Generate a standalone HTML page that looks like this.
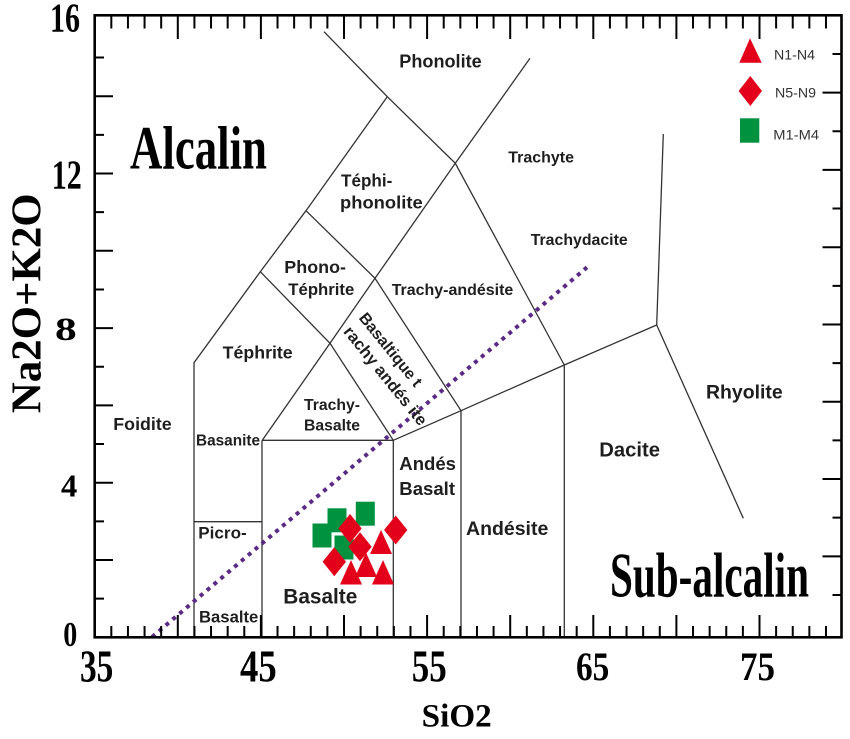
<!DOCTYPE html>
<html>
<head>
<meta charset="utf-8">
<style>
html,body{margin:0;padding:0;background:#fff;}
svg{display:block;}
.lab{font-family:"Liberation Sans",sans-serif;font-weight:bold;fill:#1e1e1e;}
.ser{font-family:"Liberation Serif",serif;font-weight:bold;fill:#000;}
.leg{font-family:"Liberation Sans",sans-serif;font-size:14px;fill:#333;}
</style>
</head>
<body>
<svg width="850" height="739" viewBox="0 0 850 739" xmlns="http://www.w3.org/2000/svg">
<rect x="0" y="0" width="850" height="739" fill="#fff"/>

<!-- TAS field boundaries -->
<g fill="none" stroke="#333" stroke-width="1.3" stroke-linejoin="miter">
  <polyline points="194,637.3 194,362.7 260.3,271.7 306,210.7 387.3,96.7"/>
  <polyline points="324,31.7 387.3,96.7 455.3,163.3 564.3,365"/>
  <polyline points="530,58.3 455.3,163.3 375,278.3 330,343.3 262.3,440.3"/>
  <polyline points="260.3,271.7 330,343.3 393.3,440.3"/>
  <polyline points="306,210.7 375,278.3 461,410.7"/>
  <line x1="262" y1="440.3" x2="393.3" y2="440.3"/>
  <line x1="262" y1="440.3" x2="262" y2="637.3"/>
  <line x1="194" y1="521.7" x2="262" y2="521.7"/>
  <line x1="393.3" y1="440.3" x2="393.3" y2="637.3"/>
  <polyline points="393.3,440.3 461,410.7 564.3,365 656.7,325"/>
  <line x1="461" y1="410.7" x2="461" y2="637.3"/>
  <line x1="564.3" y1="365" x2="564.3" y2="637.3"/>
  <polyline points="663.3,134 656.7,325 743.3,518.3"/>
</g>

<!-- dotted alkaline/subalkaline divider -->
<line x1="152" y1="637" x2="587" y2="267.3" stroke="#5b2a86" stroke-width="4" stroke-dasharray="4 5"/>

<!-- axes frame -->
<rect x="94.7" y="15.3" width="746.8" height="622" fill="none" stroke="#000" stroke-width="2.6"/>

<!-- ticks -->
<g stroke="#000" stroke-width="2" fill="none">
  <!-- bottom minor -->
  <path d="M111.32 637.3V626M127.94 637.3V626M144.56 637.3V626M161.18 637.3V626M194.42 637.3V626M211.04 637.3V626M227.66 637.3V626M244.28 637.3V626M277.52 637.3V626M294.14 637.3V626M310.76 637.3V626M327.38 637.3V626M360.62 637.3V626M377.24 637.3V626M393.86 637.3V626M410.48 637.3V626M443.72 637.3V626M460.34 637.3V626M476.96 637.3V626M493.58 637.3V626M526.82 637.3V626M543.44 637.3V626M560.06 637.3V626M576.68 637.3V626M609.92 637.3V626M626.54 637.3V626M643.16 637.3V626M659.78 637.3V626M693.02 637.3V626M709.64 637.3V626M726.26 637.3V626M742.88 637.3V626M776.12 637.3V626M792.74 637.3V626M809.36 637.3V626M825.98 637.3V626"/>
  <!-- bottom major -->
  <path d="M177.8 637.3V615M260.9 637.3V615M344 637.3V615M427.1 637.3V615M510.2 637.3V615M593.3 637.3V615M676.4 637.3V615M759.5 637.3V615"/>
  <!-- top minor -->
  <path d="M111.32 15.3V28.5M127.94 15.3V28.5M144.56 15.3V28.5M161.18 15.3V28.5M194.42 15.3V28.5M211.04 15.3V28.5M227.66 15.3V28.5M244.28 15.3V28.5M277.52 15.3V28.5M294.14 15.3V28.5M310.76 15.3V28.5M327.38 15.3V28.5M360.62 15.3V28.5M377.24 15.3V28.5M393.86 15.3V28.5M410.48 15.3V28.5M443.72 15.3V28.5M460.34 15.3V28.5M476.96 15.3V28.5M493.58 15.3V28.5M526.82 15.3V28.5M543.44 15.3V28.5M560.06 15.3V28.5M576.68 15.3V28.5M609.92 15.3V28.5M626.54 15.3V28.5M643.16 15.3V28.5M659.78 15.3V28.5M693.02 15.3V28.5M709.64 15.3V28.5M726.26 15.3V28.5M742.88 15.3V28.5M776.12 15.3V28.5M792.74 15.3V28.5M809.36 15.3V28.5M825.98 15.3V28.5"/>
  <!-- top major -->
  <path d="M177.8 15.3V39M260.9 15.3V39M344 15.3V39M427.1 15.3V39M510.2 15.3V39M593.3 15.3V39M676.4 15.3V39M759.5 15.3V39"/>
  <!-- left ticks -->
  <path d="M94.7 598.65H104M94.7 560H113M94.7 521.35H104M94.7 482.7H113M94.7 444.05H104M94.7 405.4H113M94.7 366.75H104M94.7 328.1H113M94.7 289.45H104M94.7 250.8H113M94.7 212.15H104M94.7 173.5H113M94.7 134.85H104M94.7 96.2H113M94.7 57.55H104"/>
  <!-- right ticks -->
  <path d="M841.5 594.96H832.5M841.5 556.32H822.5M841.5 517.68H832.5M841.5 479.04H822.5M841.5 440.4H832.5M841.5 401.76H822.5M841.5 363.12H832.5M841.5 324.48H822.5M841.5 285.84H832.5M841.5 247.2H822.5M841.5 208.56H832.5M841.5 169.92H822.5M841.5 131.28H832.5M841.5 92.64H822.5M841.5 54H832.5"/>
</g>

<!-- tick labels -->
<g class="ser">
  <text x="50" y="31.7" font-size="41" textLength="30" lengthAdjust="spacingAndGlyphs">16</text>
  <text x="51.7" y="188.3" font-size="41" textLength="30" lengthAdjust="spacingAndGlyphs">12</text>
  <text x="55" y="340" font-size="33" textLength="21.7" lengthAdjust="spacingAndGlyphs">8</text>
  <text x="61" y="496.7" font-size="32" textLength="16.3" lengthAdjust="spacingAndGlyphs">4</text>
  <text x="63.3" y="646" font-size="35" textLength="14" lengthAdjust="spacingAndGlyphs">0</text>
  <text x="80" y="681.7" font-size="46" textLength="33.3" lengthAdjust="spacingAndGlyphs">35</text>
  <text x="240" y="681.7" font-size="46" textLength="36.7" lengthAdjust="spacingAndGlyphs">45</text>
  <text x="411.7" y="681.7" font-size="46" textLength="35" lengthAdjust="spacingAndGlyphs">55</text>
  <text x="576" y="680" font-size="40" textLength="33.3" lengthAdjust="spacingAndGlyphs">65</text>
  <text x="740" y="680" font-size="40" textLength="35" lengthAdjust="spacingAndGlyphs">75</text>
  <text x="421.7" y="726.7" font-size="33" textLength="70" lengthAdjust="spacingAndGlyphs">SiO2</text>
  <text transform="translate(40.7,413.3) rotate(-90)" x="0" y="0" font-size="42" textLength="220" lengthAdjust="spacingAndGlyphs">Na2O+K2O</text>
  <text x="130" y="168.3" font-size="61" textLength="137" lengthAdjust="spacingAndGlyphs">Alcalin</text>
  <text x="610" y="596.7" font-size="64" textLength="199" lengthAdjust="spacingAndGlyphs">Sub-alcalin</text>
</g>

<!-- field labels -->
<g class="lab">
  <text x="399.3" y="67.3" font-size="18" textLength="82.4" lengthAdjust="spacingAndGlyphs">Phonolite</text>
  <text x="341" y="186.7" font-size="17.5" textLength="51.3" lengthAdjust="spacingAndGlyphs">Téphi-</text>
  <text x="340" y="208.3" font-size="17.5" textLength="82.7" lengthAdjust="spacingAndGlyphs">phonolite</text>
  <text x="284.3" y="273" font-size="17.5" textLength="61.7" lengthAdjust="spacingAndGlyphs">Phono-</text>
  <text x="288.3" y="295" font-size="17" textLength="66" lengthAdjust="spacingAndGlyphs">Téphrite</text>
  <text x="391.7" y="295" font-size="16" textLength="121.6" lengthAdjust="spacingAndGlyphs">Trachy-andésite</text>
  <text x="508.3" y="162.7" font-size="16" textLength="65.7" lengthAdjust="spacingAndGlyphs">Trachyte</text>
  <text x="530.7" y="245" font-size="16" textLength="97" lengthAdjust="spacingAndGlyphs">Trachydacite</text>
  <text x="222.7" y="358.3" font-size="17.5" textLength="70" lengthAdjust="spacingAndGlyphs">Téphrite</text>
  <text x="304" y="410" font-size="16" textLength="56" lengthAdjust="spacingAndGlyphs">Trachy-</text>
  <text x="304" y="430.7" font-size="16" textLength="56" lengthAdjust="spacingAndGlyphs">Basalte</text>
  <text x="196" y="445.7" font-size="15.5" textLength="64" lengthAdjust="spacingAndGlyphs">Basanite</text>
  <text x="399.3" y="470" font-size="18.5" textLength="56.7" lengthAdjust="spacingAndGlyphs">Andés</text>
  <text x="399.3" y="495" font-size="18.5" textLength="55.7" lengthAdjust="spacingAndGlyphs">Basalt</text>
  <text x="113.3" y="430" font-size="17.5" textLength="58.4" lengthAdjust="spacingAndGlyphs">Foidite</text>
  <text x="198.3" y="538.3" font-size="17" textLength="48.4" lengthAdjust="spacingAndGlyphs">Picro-</text>
  <text x="199" y="622.3" font-size="16.7" textLength="59.3" lengthAdjust="spacingAndGlyphs">Basalte</text>
  <text x="283.3" y="603.3" font-size="20.8" textLength="74" lengthAdjust="spacingAndGlyphs">Basalte</text>
  <text x="706" y="398.3" font-size="19.4" textLength="76.7" lengthAdjust="spacingAndGlyphs">Rhyolite</text>
  <text x="599.3" y="456.7" font-size="20.2" textLength="60.7" lengthAdjust="spacingAndGlyphs">Dacite</text>
  <text x="466" y="535" font-size="19.5" textLength="82.3" lengthAdjust="spacingAndGlyphs">Andésite</text>
  <g transform="translate(358.2,318.1) rotate(51)">
    <text x="0" y="0" font-size="16" textLength="90" lengthAdjust="spacingAndGlyphs">Basaltique t</text>
  </g>
  <g transform="translate(342.8,331.9) rotate(51)">
    <text x="0" y="0" font-size="16.5" textLength="122" lengthAdjust="spacingAndGlyphs">rachy andés ite</text>
  </g>
</g>

<!-- data markers -->
<g fill="#00923f">
  <rect x="312.5" y="523.5" width="19" height="24"/>
  <rect x="327.5" y="508.3" width="19" height="24"/>
  <rect x="355.8" y="501.7" width="19" height="24"/>
  <rect x="334.5" y="535.5" width="19" height="24"/>
</g>
<g fill="#e3001b">
  <polygon points="350,514 361.7,528.5 350,543 338.3,528.5"/>
  <polygon points="360,532.2 371.7,546.7 360,561.2 348.3,546.7"/>
  <polygon points="334.3,547.2 346,561.7 334.3,576.2 322.6,561.7"/>
  <polygon points="395.7,515.5 407.4,530 395.7,544.5 384,530"/>
  <polygon points="381,530 392,554 370,554"/>
  <polygon points="366,552.5 377,577 355,577"/>
  <polygon points="351,560 362,584.5 340,584.5"/>
  <polygon points="383,560 394,584.5 372,584.5"/>
</g>

<!-- legend -->
<polygon points="750,38.3 761.7,62.7 739.3,62.7" fill="#e3001b"/>
<polygon points="750.3,76 762,91 750.3,106 738.6,91" fill="#e3001b"/>
<rect x="740" y="118.3" width="19.3" height="24.4" fill="#00923f"/>
<text class="leg" x="774" y="59.3" textLength="41" lengthAdjust="spacingAndGlyphs">N1-N4</text>
<text class="leg" x="775" y="97.7" textLength="41" lengthAdjust="spacingAndGlyphs">N5-N9</text>
<text class="leg" x="773.3" y="139.3" textLength="45.7" lengthAdjust="spacingAndGlyphs">M1-M4</text>
</svg>
</body>
</html>
